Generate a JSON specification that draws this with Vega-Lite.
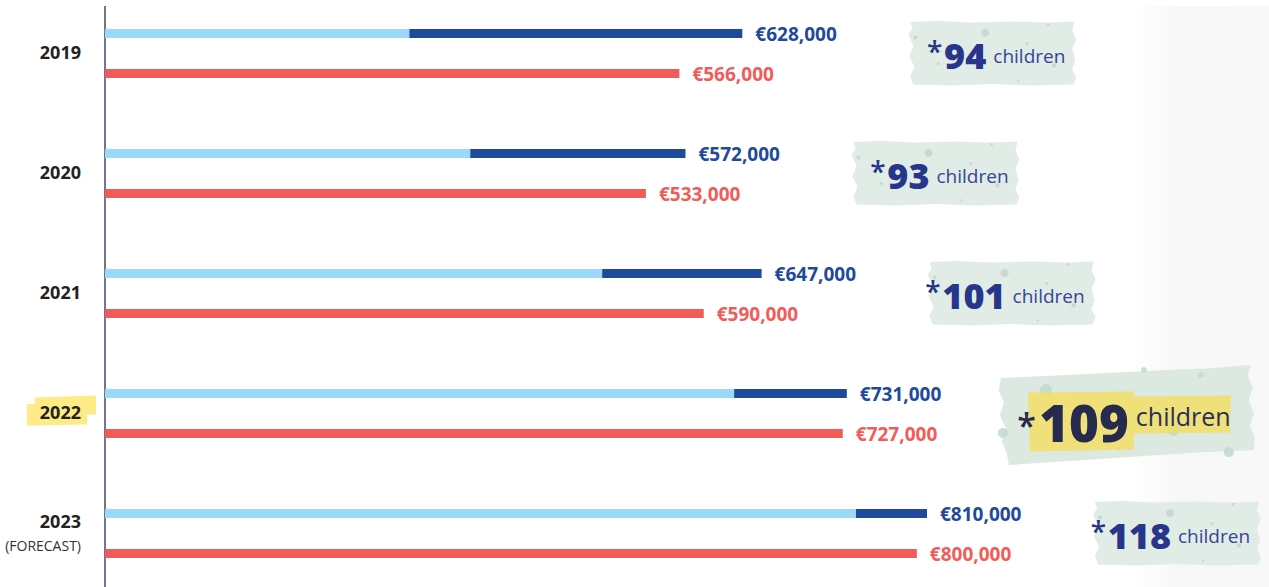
{
  "$schema": "https://vega.github.io/schema/vega-lite/v6.json",
  "width": 1164,
  "height": 581,
  "autosize": {"type": "none"},
  "padding": {"left": 105, "top": 6, "right": 0, "bottom": 0},
  "background": "#ffffff",
  "config": {
    "view": {"stroke": null},
    "locale": {"number": {"decimal": ".", "thousands": ",", "grouping": [3], "currency": ["€", ""]}},
    "text": {"font": "Open Sans"}
  },
  "data": {
    "values": [
      {"year": "2019", "series": "Income", "amount": 628000, "base": 300000, "children": 94},
      {"year": "2019", "series": "Spend", "amount": 566000},
      {"year": "2020", "series": "Income", "amount": 572000, "base": 360000, "children": 93},
      {"year": "2020", "series": "Spend", "amount": 533000},
      {"year": "2021", "series": "Income", "amount": 647000, "base": 490000, "children": 101},
      {"year": "2021", "series": "Spend", "amount": 590000},
      {"year": "2022", "series": "Income", "amount": 731000, "base": 620000, "children": 109},
      {"year": "2022", "series": "Spend", "amount": 727000},
      {"year": "2023", "series": "Income", "amount": 810000, "base": 740000, "children": 118, "note": "(FORECAST)"},
      {"year": "2023", "series": "Spend", "amount": 800000}
    ]
  },
  "layer": [
    {
      "data": {"values": [{}]},
      "mark": {
        "type": "rect",
        "color": {"gradient": "linear", "x1": 0, "x2": 1, "y1": 0, "y2": 0,
          "stops": [{"offset": 0, "color": "#ffffff"}, {"offset": 0.36, "color": "#f7f7f7"}, {"offset": 1, "color": "#f8f8f8"}]}
      },
      "encoding": {
        "x": {"datum": 1010000, "type": "quantitative", "scale": {"domain": [0, 1147000], "nice": false}, "axis": null},
        "x2": {"datum": 1147000}
      }
    },
    {
      "data": {"values": [{}]},
      "mark": {"type": "rule", "color": "#2b2b55", "strokeWidth": 1.3},
      "encoding": {
        "x": {"datum": 0, "type": "quantitative", "scale": {"domain": [0, 1147000], "nice": false}, "axis": null}
      }
    },
    {
      "transform": [{"filter": "datum.series == 'Income' && datum.year != '2022'"}],
      "mark": {
        "type": "point", "filled": true, "opacity": 1, "strokeWidth": 0, "size": 400, "color": "#e1ece6",
        "shape": "M16.8,-3.15 L19.5,-3.25 L23,-3.1 L27,-3.2 L30.5,-3.1 L33.2,-3.2 L33.0,-2.3 L33.4,-1.4 L33.0,-0.5 L33.3,0.6 L33.0,1.6 L33.4,2.4 L33.1,3.1 L29,3.2 L25,3.05 L21,3.2 L17.1,3.1 L16.8,2.3 L17.2,1.3 L16.7,0.3 L17.1,-0.8 L16.6,-1.9 L17.0,-2.5 Z"
      },
      "encoding": {
        "x": {"field": "amount", "type": "quantitative", "scale": {"domain": [0, 1147000], "nice": false}, "axis": null},
        "y": {"field": "year", "type": "nominal", "scale": {"range": [-12.5, 587.5], "paddingInner": 0, "paddingOuter": 0}, "axis": null}
      }
    },
    {
      "transform": [{"filter": "datum.series == 'Income' && datum.year != '2022'"}],
      "mark": {
        "type": "point", "filled": true, "opacity": 0.85, "strokeWidth": 0, "size": 400, "color": "#c3d6cc",
        "shape": "M23.9,-2.05 a0.4,0.4 0 1,0 0.8,0 a0.4,0.4 0 1,0 -0.8,0 Z M19.45,1 a0.15,0.15 0 1,0 0.3,0 a0.15,0.15 0 1,0 -0.3,0 Z M30.45,-2.9 a0.15,0.15 0 1,0 0.3,0 a0.15,0.15 0 1,0 -0.3,0 Z M27.48,2.7 a0.12,0.12 0 1,0 0.24,0 a0.12,0.12 0 1,0 -0.24,0 Z M30.98,1.2 a0.22,0.22 0 1,0 0.44,0 a0.22,0.22 0 1,0 -0.44,0 Z M17.1,-1.6 a0.2,0.2 0 1,0 0.4,0 a0.2,0.2 0 1,0 -0.4,0 Z M28.35,-1.0 a0.15,0.15 0 1,0 0.3,0 a0.15,0.15 0 1,0 -0.3,0 Z"
      },
      "encoding": {
        "x": {"field": "amount", "type": "quantitative", "scale": {"domain": [0, 1147000], "nice": false}, "axis": null},
        "y": {"field": "year", "type": "nominal", "scale": {"range": [-12.5, 587.5], "paddingInner": 0, "paddingOuter": 0}, "axis": null}
      }
    },
    {
      "transform": [{"filter": "datum.series == 'Income' && datum.year == '2022'"}],
      "mark": {
        "type": "point", "filled": true, "opacity": 1, "strokeWidth": 0, "size": 400, "color": "#dce9e1",
        "shape": "M15.4,-3.55 L20,-3.75 L26,-4.05 L32,-4.35 L36,-4.5 L40.4,-4.85 L40.1,-3.8 L40.6,-2.6 L40.2,-1.3 L40.7,0 L40.3,1.2 L40.8,2.4 L40.7,3.65 L35,3.9 L29,4.3 L23,4.7 L16.2,5.15 L16.0,4.0 L15.5,2.8 L15.9,1.5 L15.3,0.2 L15.7,-1.1 L15.2,-2.3 Z"
      },
      "encoding": {
        "x": {"field": "amount", "type": "quantitative", "scale": {"domain": [0, 1147000], "nice": false}, "axis": null},
        "y": {"field": "year", "type": "nominal", "scale": {"range": [-12.5, 587.5], "paddingInner": 0, "paddingOuter": 0}, "axis": null}
      }
    },
    {
      "transform": [{"filter": "datum.series == 'Income' && datum.year == '2022'"}],
      "mark": {
        "type": "point", "filled": true, "opacity": 0.9, "strokeWidth": 0, "size": 400, "color": "#c2dccd",
        "shape": "M19.3,-2.35 a0.6,0.6 0 1,0 1.2,0 a0.6,0.6 0 1,0 -1.2,0 Z M15.1,1.95 a0.5,0.5 0 1,0 1.0,0 a0.5,0.5 0 1,0 -1.0,0 Z M32.1,1.65 a0.6,0.6 0 1,0 1.2,0 a0.6,0.6 0 1,0 -1.2,0 Z M35.1,-3.85 a0.3,0.3 0 1,0 0.6,0 a0.3,0.3 0 1,0 -0.6,0 Z M29.4,-4.35 a0.3,0.3 0 1,0 0.6,0 a0.3,0.3 0 1,0 -0.6,0 Z M37.7,3.85 a0.5,0.5 0 1,0 1.0,0 a0.5,0.5 0 1,0 -1.0,0 Z M27.05,3.55 a0.15,0.15 0 1,0 0.3,0 a0.15,0.15 0 1,0 -0.3,0 Z"
      },
      "encoding": {
        "x": {"field": "amount", "type": "quantitative", "scale": {"domain": [0, 1147000], "nice": false}, "axis": null},
        "y": {"field": "year", "type": "nominal", "scale": {"range": [-12.5, 587.5], "paddingInner": 0, "paddingOuter": 0}, "axis": null}
      }
    },
    {
      "transform": [{"filter": "datum.series == 'Income' && datum.year == '2022'"}],
      "mark": {
        "type": "point", "filled": true, "opacity": 0.75, "strokeWidth": 0, "size": 400, "color": "#f6dc55",
        "shape": "M18.1,-2.1 L28.7,-2.2 L28.7,3.6 L18.3,3.8 Z M28.7,-1.7 L38.4,-1.8 L38.3,1.9 L28.7,2.0 Z"
      },
      "encoding": {
        "x": {"field": "amount", "type": "quantitative", "scale": {"domain": [0, 1147000], "nice": false}, "axis": null},
        "y": {"field": "year", "type": "nominal", "scale": {"range": [-12.5, 587.5], "paddingInner": 0, "paddingOuter": 0}, "axis": null}
      }
    },
    {
      "transform": [{"filter": "datum.series == 'Income' && datum.year == '2022'"}],
      "mark": {
        "type": "point", "filled": true, "opacity": 0.75, "strokeWidth": 0, "size": 400, "color": "#fde45e",
        "shape": "M-7.0,-1.6 L-0.9,-1.8 L-0.9,0.1 L-7.0,0.1 Z M-7.8,-0.95 L-1.8,-1.0 L-1.8,1.1 L-7.8,1.2 Z"
      },
      "encoding": {
        "x": {"datum": 0, "type": "quantitative", "scale": {"domain": [0, 1147000], "nice": false}, "axis": null},
        "y": {"field": "year", "type": "nominal", "scale": {"range": [-12.5, 587.5], "paddingInner": 0, "paddingOuter": 0}, "axis": null}
      }
    },
    {
      "mark": {"type": "bar", "height": 9},
      "encoding": {
        "x": {"field": "amount", "type": "quantitative", "scale": {"domain": [0, 1147000], "nice": false}, "axis": null},
        "y": {"field": "year", "type": "nominal", "scale": {"range": [-12.5, 587.5], "paddingInner": 0, "paddingOuter": 0}, "axis": null},
        "yOffset": {"field": "series", "type": "nominal", "scale": {"domain": ["Income", "Spend"], "paddingInner": 0, "paddingOuter": 0.5}},
        "color": {"field": "series", "type": "nominal", "scale": {"domain": ["Income", "Spend"], "range": ["#1f4a9b", "#f05c5a"]}, "legend": null}
      }
    },
    {
      "transform": [{"filter": "datum.series == 'Income'"}],
      "mark": {"type": "bar", "height": 9, "color": "#9ad9f7"},
      "encoding": {
        "x": {"field": "base", "type": "quantitative", "scale": {"domain": [0, 1147000], "nice": false}, "axis": null},
        "y": {"field": "year", "type": "nominal", "scale": {"range": [-12.5, 587.5], "paddingInner": 0, "paddingOuter": 0}, "axis": null},
        "yOffset": {"field": "series", "type": "nominal", "scale": {"domain": ["Income", "Spend"], "paddingInner": 0, "paddingOuter": 0.5}}
      }
    },
    {
      "mark": {"type": "text", "align": "left", "baseline": "middle", "dx": 13, "dy": 1, "fontSize": 19, "fontWeight": "bold", "letterSpacing": 0.3},
      "encoding": {
        "x": {"field": "amount", "type": "quantitative", "scale": {"domain": [0, 1147000], "nice": false}, "axis": null},
        "y": {"field": "year", "type": "nominal", "scale": {"range": [-12.5, 587.5], "paddingInner": 0, "paddingOuter": 0}, "axis": null},
        "yOffset": {"field": "series", "type": "nominal", "scale": {"domain": ["Income", "Spend"], "paddingInner": 0, "paddingOuter": 0.5}},
        "color": {"field": "series", "type": "nominal", "scale": {"domain": ["Income", "Spend"], "range": ["#1f4a9b", "#f05c5a"]}, "legend": null},
        "text": {"field": "amount", "type": "quantitative", "format": "$,.0f"}
      }
    },
    {
      "transform": [{"filter": "datum.series == 'Income' && datum.year != '2023'"}],
      "mark": {"type": "text", "align": "right", "baseline": "middle", "dx": -24, "fontSize": 18, "fontWeight": "bold", "color": "#222222"},
      "encoding": {
        "x": {"datum": 0, "type": "quantitative", "scale": {"domain": [0, 1147000], "nice": false}, "axis": null},
        "y": {"field": "year", "type": "nominal", "scale": {"range": [-12.5, 587.5], "paddingInner": 0, "paddingOuter": 0}, "axis": null},
        "text": {"field": "year", "type": "nominal"}
      }
    },
    {
      "transform": [{"filter": "datum.series == 'Income' && datum.year == '2023'"}],
      "mark": {"type": "text", "align": "right", "baseline": "middle", "dx": -24, "dy": -11, "fontSize": 18, "fontWeight": "bold", "color": "#222222"},
      "encoding": {
        "x": {"datum": 0, "type": "quantitative", "scale": {"domain": [0, 1147000], "nice": false}, "axis": null},
        "y": {"field": "year", "type": "nominal", "scale": {"range": [-12.5, 587.5], "paddingInner": 0, "paddingOuter": 0}, "axis": null},
        "text": {"field": "year", "type": "nominal"}
      }
    },
    {
      "transform": [{"filter": "datum.note"}],
      "mark": {"type": "text", "align": "right", "baseline": "middle", "dx": -24, "dy": 13, "fontSize": 14, "color": "#333333"},
      "encoding": {
        "x": {"datum": 0, "type": "quantitative", "scale": {"domain": [0, 1147000], "nice": false}, "axis": null},
        "y": {"field": "year", "type": "nominal", "scale": {"range": [-12.5, 587.5], "paddingInner": 0, "paddingOuter": 0}, "axis": null},
        "text": {"field": "note", "type": "nominal"}
      }
    },
    {
      "transform": [{"filter": "datum.series == 'Income' && datum.year != '2022'"}],
      "mark": {"type": "text", "align": "right", "baseline": "alphabetic", "dx": 244, "dy": 15, "fontSize": 36, "fontWeight": 800, "color": "#27368a", "letterSpacing": -1},
      "encoding": {
        "x": {"field": "amount", "type": "quantitative", "scale": {"domain": [0, 1147000], "nice": false}, "axis": null},
        "y": {"field": "year", "type": "nominal", "scale": {"range": [-12.5, 587.5], "paddingInner": 0, "paddingOuter": 0}, "axis": null},
        "text": {"field": "children", "type": "quantitative"}
      }
    },
    {
      "transform": [{"filter": "datum.series == 'Income' && datum.year != '2022'"}],
      "mark": {"type": "text", "align": "right", "baseline": "alphabetic", "dx": {"expr": "datum.children >= 100 ? 179 : 200"}, "dy": 8, "fontSize": 28, "fontWeight": 600, "color": "#27368a", "text": "*"},
      "encoding": {
        "x": {"field": "amount", "type": "quantitative", "scale": {"domain": [0, 1147000], "nice": false}, "axis": null},
        "y": {"field": "year", "type": "nominal", "scale": {"range": [-12.5, 587.5], "paddingInner": 0, "paddingOuter": 0}, "axis": null}
      }
    },
    {
      "transform": [{"filter": "datum.series == 'Income' && datum.year != '2022'"}],
      "mark": {"type": "text", "align": "left", "baseline": "alphabetic", "dx": 251, "dy": 9, "fontSize": 19, "color": "#34459a", "text": "children"},
      "encoding": {
        "x": {"field": "amount", "type": "quantitative", "scale": {"domain": [0, 1147000], "nice": false}, "axis": null},
        "y": {"field": "year", "type": "nominal", "scale": {"range": [-12.5, 587.5], "paddingInner": 0, "paddingOuter": 0}, "axis": null}
      }
    },
    {
      "transform": [{"filter": "datum.series == 'Income' && datum.year == '2022'"}],
      "mark": {"type": "text", "align": "right", "baseline": "alphabetic", "dx": 282, "dy": 28, "fontSize": 51, "fontWeight": 800, "color": "#262b4d", "letterSpacing": -1},
      "encoding": {
        "x": {"field": "amount", "type": "quantitative", "scale": {"domain": [0, 1147000], "nice": false}, "axis": null},
        "y": {"field": "year", "type": "nominal", "scale": {"range": [-12.5, 587.5], "paddingInner": 0, "paddingOuter": 0}, "axis": null},
        "text": {"field": "children", "type": "quantitative"}
      }
    },
    {
      "transform": [{"filter": "datum.series == 'Income' && datum.year == '2022'"}],
      "mark": {"type": "text", "align": "right", "baseline": "alphabetic", "dx": 189, "dy": 24, "fontSize": 34, "fontWeight": 600, "color": "#262b4d", "text": "*"},
      "encoding": {
        "x": {"field": "amount", "type": "quantitative", "scale": {"domain": [0, 1147000], "nice": false}, "axis": null},
        "y": {"field": "year", "type": "nominal", "scale": {"range": [-12.5, 587.5], "paddingInner": 0, "paddingOuter": 0}, "axis": null}
      }
    },
    {
      "transform": [{"filter": "datum.series == 'Income' && datum.year == '2022'"}],
      "mark": {"type": "text", "align": "left", "baseline": "alphabetic", "dx": 289, "dy": 12, "fontSize": 25, "color": "#2a2f55", "text": "children"},
      "encoding": {
        "x": {"field": "amount", "type": "quantitative", "scale": {"domain": [0, 1147000], "nice": false}, "axis": null},
        "y": {"field": "year", "type": "nominal", "scale": {"range": [-12.5, 587.5], "paddingInner": 0, "paddingOuter": 0}, "axis": null}
      }
    }
  ]
}
